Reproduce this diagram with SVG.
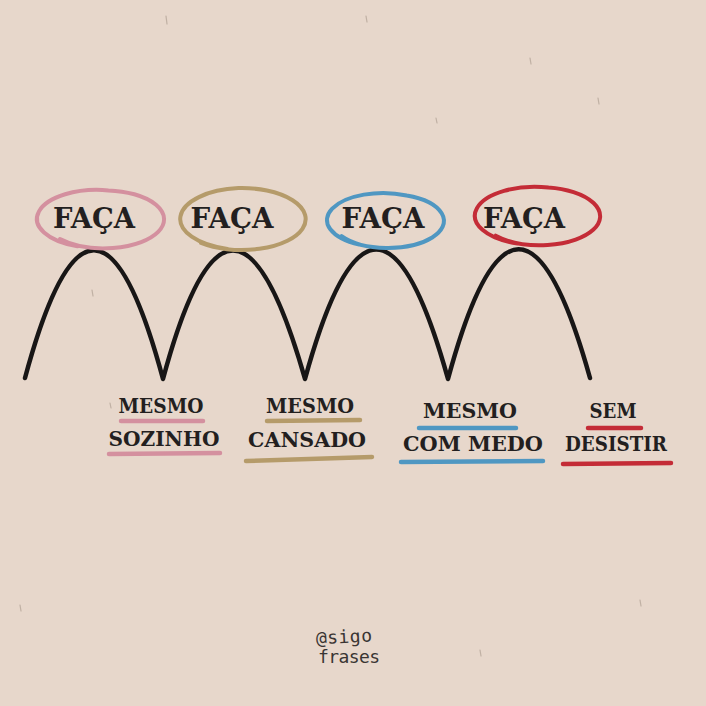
<svg xmlns="http://www.w3.org/2000/svg" width="706" height="706" viewBox="0 0 706 706">
<style>
.bg{fill:#e7d7cb}
.arch{fill:none;stroke:#181616;stroke-width:4.5;stroke-linecap:round;stroke-linejoin:round}
.loop{fill:none;stroke-width:4;stroke-linecap:round}
.ul{fill:none;stroke-width:4.5;stroke-linecap:round}
.faca{font-family:"DejaVu Serif",serif;font-weight:bold;font-size:28px;fill:#231f1f;text-anchor:middle}
.lbl{font-family:"DejaVu Serif",serif;font-weight:bold;font-size:21px;fill:#231f1f;text-anchor:middle}
.sig{font-family:"DejaVu Sans Mono","Liberation Mono",monospace;font-size:18px;fill:#3a3533}
.speck{stroke:#9a8b7e;stroke-width:1.2;stroke-linecap:round;opacity:0.5}
.pink{stroke:#d4909f}
.tan{stroke:#b59b6a}
.blue{stroke:#4f97c2}
.red{stroke:#c42c37}
</style>
<rect class="bg" x="0" y="0" width="706" height="706"/>
<g id="specks">
<line class="speck" x1="166" y1="16" x2="167" y2="24"/>
<line class="speck" x1="366" y1="16" x2="367" y2="22"/>
<line class="speck" x1="530" y1="58" x2="531" y2="64"/>
<line class="speck" x1="598" y1="98" x2="599" y2="104"/>
<line class="speck" x1="436" y1="118" x2="437" y2="123"/>
<line class="speck" x1="92" y1="290" x2="93" y2="296"/>
<line class="speck" x1="20" y1="605" x2="21" y2="611"/>
<line class="speck" x1="640" y1="600" x2="641" y2="606"/>
<line class="speck" x1="480" y1="650" x2="481" y2="656"/>
<line class="speck" x1="110" y1="403" x2="111" y2="408"/>
</g>
<g id="connectors">
<path class="arch" d="M25 378 Q94 122 163 379 Q232 122 305 379 Q376 120 448 379 Q518 120 590 378"/>
</g>
<g id="node-faca-1">
<path class="loop pink" d="M77.5 246.3 A60 29 0 0 1 108.4 190.4 A60 29 0 1 1 60 239"/>
<text class="faca" x="94" y="228" textLength="82" lengthAdjust="spacingAndGlyphs">FAÇA</text>
</g>
<g id="node-faca-2">
<path class="loop tan" d="M227.5 248.9 A64 31 0 0 1 238.5 188.1 A64 31 0 1 1 201 243"/>
<text class="faca" x="232" y="228" textLength="83" lengthAdjust="spacingAndGlyphs">FAÇA</text>
</g>
<g id="node-faca-3">
<path class="loop blue" d="M359.3 244.5 A56 27 0 0 1 406.7 195.5 A56 27 0 1 1 341.6 236.1"/>
<text class="faca" x="383" y="228" textLength="83" lengthAdjust="spacingAndGlyphs">FAÇA</text>
</g>
<g id="node-faca-4">
<path class="loop red" d="M517.5 243.5 A60 29 0 0 1 548.5 187.5 A60 29 0 1 1 495.7 235.7"/>
<text class="faca" x="524" y="228" textLength="82" lengthAdjust="spacingAndGlyphs">FAÇA</text>
</g>
<g id="node-sozinho">
<text class="lbl" x="161" y="413" textLength="85" lengthAdjust="spacingAndGlyphs">MESMO</text>
<line class="ul pink" x1="121" y1="421" x2="203" y2="421"/>
<text class="lbl" x="164" y="446" textLength="111" lengthAdjust="spacingAndGlyphs">SOZINHO</text>
<line class="ul pink" x1="109" y1="454" x2="220" y2="453"/>
</g>
<g id="node-cansado">
<text class="lbl" x="310" y="413" textLength="88" lengthAdjust="spacingAndGlyphs">MESMO</text>
<line class="ul tan" x1="267" y1="421" x2="360" y2="420"/>
<text class="lbl" x="307" y="447" textLength="118" lengthAdjust="spacingAndGlyphs">CANSADO</text>
<line class="ul tan" x1="246" y1="461" x2="372" y2="457"/>
</g>
<g id="node-com-medo">
<text class="lbl" x="470" y="418" textLength="94" lengthAdjust="spacingAndGlyphs">MESMO</text>
<line class="ul blue" x1="419" y1="428" x2="516" y2="428"/>
<text class="lbl" x="473" y="451" textLength="140" lengthAdjust="spacingAndGlyphs">COM MEDO</text>
<line class="ul blue" x1="401" y1="462" x2="543" y2="461"/>
</g>
<g id="node-sem-desistir">
<text class="lbl" x="613" y="418" textLength="47" lengthAdjust="spacingAndGlyphs">SEM</text>
<line class="ul red" x1="588" y1="428" x2="641" y2="428"/>
<text class="lbl" x="616" y="451" textLength="102" lengthAdjust="spacingAndGlyphs">DESISTIR</text>
<line class="ul red" x1="563" y1="464" x2="671" y2="463"/>
</g>
<g id="signature">
<text class="sig" x="316" y="643" textLength="56" transform="rotate(-3 344 638)">@sigo</text>
<text class="sig" x="318" y="663" textLength="62">frases</text>
</g>
</svg>
